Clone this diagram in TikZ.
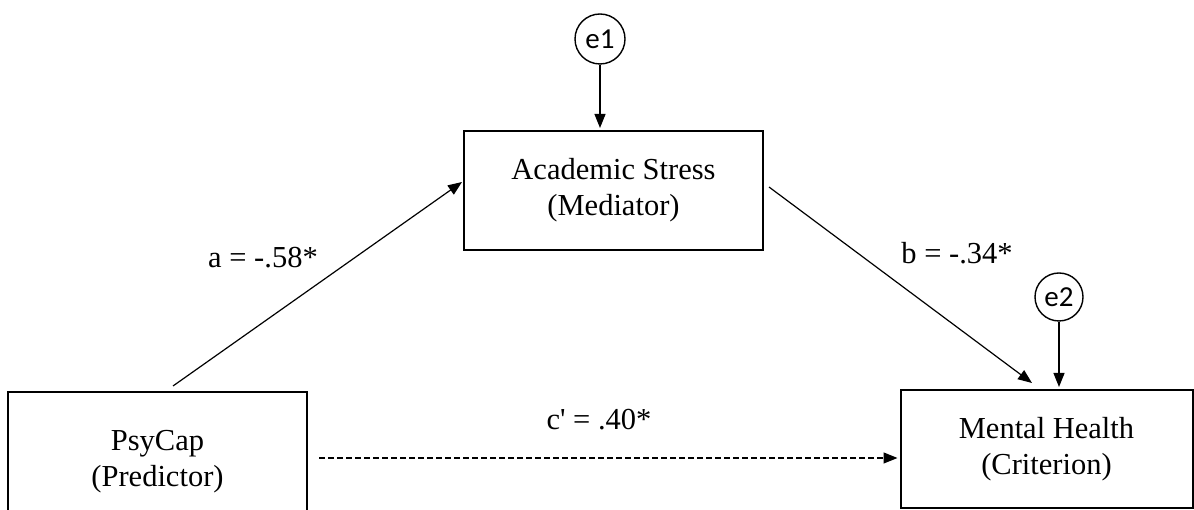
\documentclass[tikz,border=0pt]{standalone}
\usepackage{fontspec}
\setmainfont{Liberation Serif}[Ligatures=TeXOff]
\newfontfamily\efont{Carlito}
\usetikzlibrary{arrows.meta,calc}
\tikzset{
  varbox/.style={draw=black, line width=2pt, align=center, inner sep=0pt,
    font=\fontsize{30.5}{36}\selectfont},
  errc/.style={draw=black, line width=1.4pt, circle, inner sep=0pt,
    font=\efont\fontsize{29}{32}\selectfont},
  path/.style={draw=black, line width=1.2pt, -{Triangle[length=14pt,width=11pt]}},
  coef/.style={font=\fontsize{30.5}{36}\selectfont, inner sep=0pt}
}
\begin{document}
\begin{tikzpicture}[x=1pt,y=1pt]
\useasboundingbox (0,0) rectangle (1194,510);
\node[varbox, minimum width=299pt, minimum height=119pt] (med) at (613.5,319.5) {Academic Stress\\(Mediator)};
\node[varbox, minimum width=299pt, minimum height=140pt] (pred) at (157.5,48) {PsyCap\\(Predictor)};
\node[varbox, minimum width=292pt, minimum height=118pt] (crit) at (1046.5,61) {Mental Health\\(Criterion)};
\node[errc, minimum size=50pt] (e1) at (600,471) {e1};
\node[errc, minimum size=48pt] (e2) at (1059,213) {e2};
\coordinate (aS) at ($(pred.north)+(15.5,5)$);
\coordinate (aE) at ($(med.west)+(-1,8.5)$);
\coordinate (bS) at ($(med.east)+(5,3.5)$);
\coordinate (bE) at ($(crit.north)+(-14.5,6)$);
\coordinate (cS) at (319,52);
\draw[path] (aS) -- (aE);
\draw[path] (bS) -- (bE);
\draw[path] (e1.south) -- ([yshift=2pt]e1.south |- med.north);
\draw[path] (e2.south) -- ([yshift=2pt]e2.south |- crit.north);
\draw[path, dash pattern=on 6pt off 3pt] (cS) -- ([xshift=-2pt]crit.west |- cS);
\node[coef] (la) at (263,252) {a = -.58*};
\node[coef] (lb) at (957,257) {b = -.34*};
\node[coef] (lc) at (599,90) {c' = .40*};
\end{tikzpicture}
\end{document}
